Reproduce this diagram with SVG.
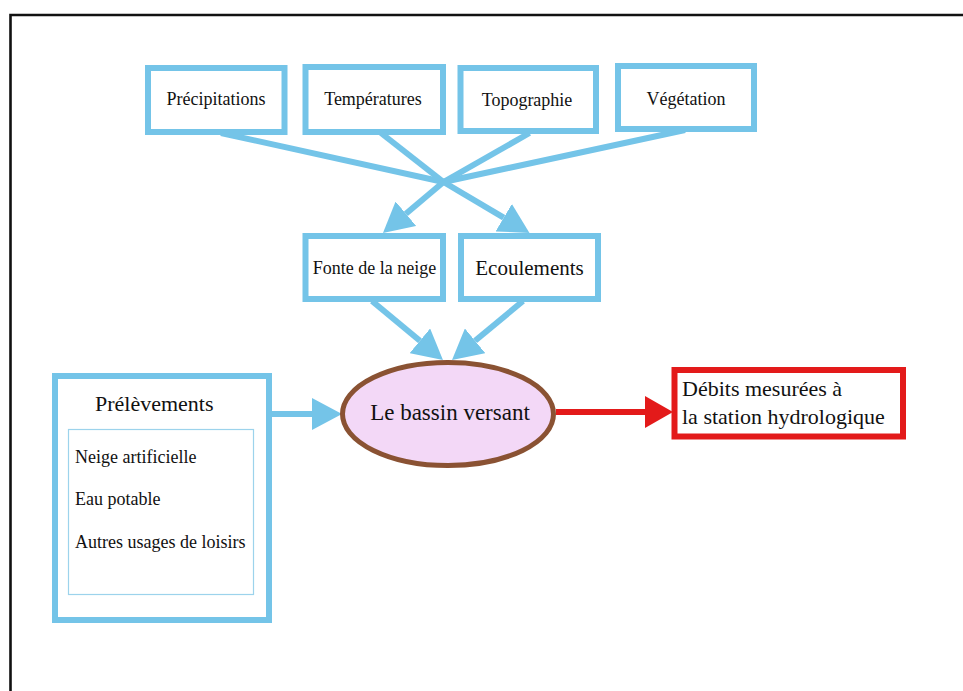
<svg xmlns="http://www.w3.org/2000/svg" width="963" height="691" viewBox="0 0 963 691">
<defs>
<marker id="ab" viewBox="0 0 30 32" refX="0" refY="16" markerWidth="30" markerHeight="32" markerUnits="userSpaceOnUse" orient="auto">
<path d="M0,0 L30,16 L0,32 Z" fill="#74C4E8"/>
</marker>
<marker id="ar" viewBox="0 0 28 32" refX="0" refY="16" markerWidth="28" markerHeight="32" markerUnits="userSpaceOnUse" orient="auto">
<path d="M0,0 L28,16 L0,32 Z" fill="#E31A1A"/>
</marker>
</defs>
<style>
.box{fill:#fff;stroke:#74C4E8;stroke-width:6}
text{font-family:'Liberation Serif','DejaVu Serif',serif;fill:#111}
.c{text-anchor:middle}
.ln{stroke:#74C4E8;stroke-width:6;fill:none}
</style>
<rect width="963" height="691" fill="#fff"/>
<path d="M10.5,691 V15 H963" fill="none" stroke="#111" stroke-width="2.6"/>
<g id="connectors">
<line class="ln" x1="221" y1="133" x2="443.5" y2="182"/>
<line class="ln" x1="381" y1="133" x2="443.5" y2="182"/>
<line class="ln" x1="529.5" y1="133" x2="443.5" y2="182"/>
<line class="ln" x1="685" y1="130" x2="443.5" y2="182"/>
<line class="ln" x1="443.5" y1="182" x2="405.9" y2="213.7" marker-end="url(#ab)"/>
<line class="ln" x1="443.5" y1="182" x2="503.7" y2="217.7" marker-end="url(#ab)"/>
<line class="ln" x1="372" y1="301" x2="419.9" y2="340.8" marker-end="url(#ab)"/>
<line class="ln" x1="523" y1="301" x2="475.1" y2="340.8" marker-end="url(#ab)"/>
<line class="ln" x1="271" y1="414" x2="312" y2="414" marker-end="url(#ab)"/>
<line x1="556" y1="412" x2="645" y2="412" stroke="#E31A1A" stroke-width="6" marker-end="url(#ar)"/>
</g>
<g id="precipitations">
<rect class="box" x="148" y="68" width="136.5" height="64"/>
<text class="c" x="216" y="105" font-size="18" font-family="Liberation Serif, DejaVu Serif, serif">Précipitations</text>
</g>
<g id="temperatures">
<rect class="box" x="305.5" y="67" width="137.5" height="65"/>
<text class="c" x="373" y="105" font-size="18" font-family="Liberation Serif, DejaVu Serif, serif">Températures</text>
</g>
<g id="topographie">
<rect class="box" x="460.5" y="68" width="135.5" height="63"/>
<text class="c" x="527" y="106" font-size="18" font-family="Liberation Serif, DejaVu Serif, serif">Topographie</text>
</g>
<g id="vegetation">
<rect class="box" x="618" y="66" width="136" height="63"/>
<text class="c" x="686" y="105" font-size="18" font-family="Liberation Serif, DejaVu Serif, serif">Végétation</text>
</g>
<g id="fonte">
<rect class="box" x="305.5" y="236" width="137.5" height="63"/>
<text class="c" x="374.5" y="274" font-size="18" font-family="Liberation Serif, DejaVu Serif, serif">Fonte de la neige</text>
</g>
<g id="ecoulements">
<rect class="box" x="461" y="236" width="137" height="63"/>
<text class="c" x="529.5" y="275" font-size="21" font-family="Liberation Serif, DejaVu Serif, serif">Ecoulements</text>
</g>
<g id="bassin">
<ellipse cx="448" cy="414" rx="105.5" ry="51.5" fill="#F3D8F7" stroke="#8A5233" stroke-width="5"/>
<text class="c" x="450" y="420" font-size="23" font-family="Liberation Serif, DejaVu Serif, serif">Le bassin versant</text>
</g>
<g id="debits">
<rect x="674.5" y="370" width="228.5" height="66.5" fill="#fff" stroke="#E31A1A" stroke-width="6"/>
<text x="682" y="396" font-size="22" font-family="Liberation Serif, DejaVu Serif, serif">Débits mesurées à</text>
<text x="682" y="424" font-size="22" font-family="Liberation Serif, DejaVu Serif, serif">la station hydrologique</text>
</g>
<g id="prelevements">
<rect class="box" x="55" y="376" width="214" height="244"/>
<text x="95" y="411" font-size="22" font-family="Liberation Serif, DejaVu Serif, serif">Prélèvements</text>
<rect x="68.5" y="429.5" width="185" height="165" fill="none" stroke="#9CD3EC" stroke-width="1.2"/>
<text x="75" y="463" font-size="18" font-family="Liberation Serif, DejaVu Serif, serif">Neige artificielle</text>
<text x="75" y="505" font-size="18" font-family="Liberation Serif, DejaVu Serif, serif">Eau potable</text>
<text x="75" y="548" font-size="18" font-family="Liberation Serif, DejaVu Serif, serif">Autres usages de loisirs</text>
</g>
</svg>
